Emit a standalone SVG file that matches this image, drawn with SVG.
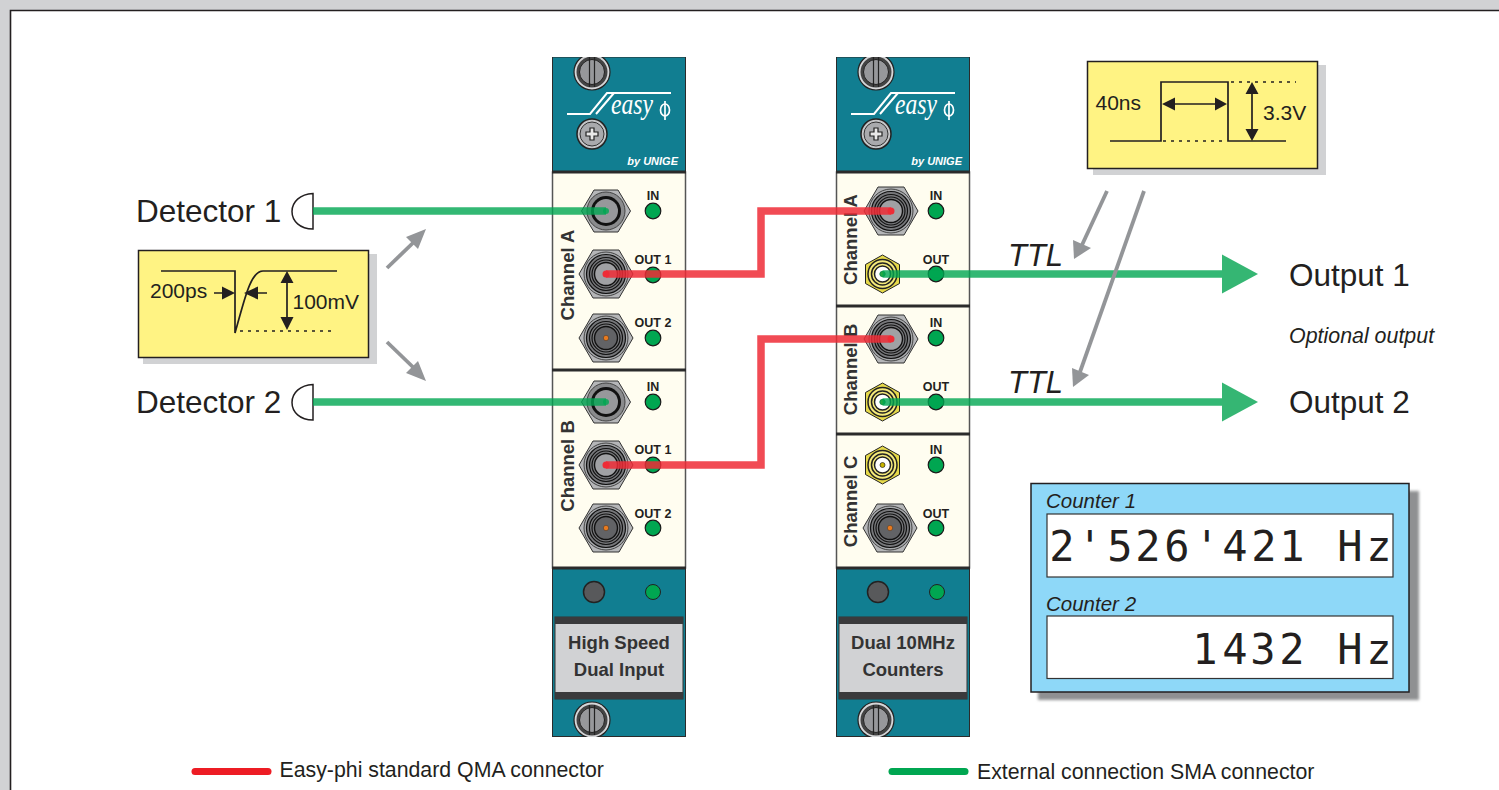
<svg xmlns="http://www.w3.org/2000/svg" width="1499" height="790" viewBox="0 0 1499 790">
<style>
text{font-family:"Liberation Sans",Arial,sans-serif;fill:#231f20}
.big{font-size:31.5px}
.it{font-style:italic}
.val{font-size:21px}
.leg{font-size:21.3px}
.pl{font-size:12.5px;font-weight:bold;text-anchor:middle}
.ch{font-size:18.5px;font-weight:bold;text-anchor:middle;fill:#333}
.lbl{font-size:18.5px;font-weight:bold;text-anchor:middle;fill:#333}
.lcd{font-family:"DejaVu Sans Mono",monospace;font-size:42px;text-anchor:middle}
.teal{fill:#117e91;stroke:#2b2b2b;stroke-width:1}
.cream{fill:#fffdf0;stroke:#555;stroke-width:1.5}
.sep{stroke:#2b2b2b;stroke-width:3}
.led{fill:#00a651;stroke:#1a1a1a;stroke-width:1.2}
.gw{stroke:#00a651;stroke-opacity:.8;stroke-width:7.5;fill:none}
.rw{stroke:#ee2c36;stroke-opacity:.85;stroke-width:7.5;fill:none}
.gd{fill:#00a651;fill-opacity:.8}
.rd{fill:#ee2c36}
.ga{stroke:#939598;stroke-width:3.8;fill:none}
.gh{fill:#939598}
.bl{stroke:#231f20;stroke-width:1.7;fill:none}
.dot{stroke:#231f20;stroke-width:1.5;stroke-dasharray:3 5;fill:none}
.ar{fill:#231f20}
.logo{stroke:#fff;fill:none;stroke-width:2}
.rg{fill:none;stroke:#111;stroke-width:1.2}
</style>
<defs>
<filter id="sb" x="-5%" y="-5%" width="110%" height="110%"><feGaussianBlur stdDeviation="1.500"/></filter>
<g id="qbase">
<path d="M-13-24H13L27 0 13 24H-13L-27 0Z" fill="#b5b6b8" stroke="#333" stroke-width="1"/>
<circle r="22" fill="#a7a9ac" stroke="#444" stroke-width="1"/>
<circle r="19.500" fill="#77787b" stroke="#111" stroke-width="1.200"/>
<circle r="16.500" class="rg"/>
<circle r="14" class="rg"/>
</g>
<g id="qma"><use href="#qbase"/><circle r="11.500" fill="#a0a1a4" stroke="#111" stroke-width="1.400"/></g>
<g id="qmao"><use href="#qbase"/><circle r="11.500" fill="#626366" stroke="#111" stroke-width="1.400"/><circle r="2.700" fill="#e87a1e" stroke="#333" stroke-width=".5"/></g>
<g id="qin">
<path d="M-12-21H12L24.500 0 12 21H-12L-24.500 0Z" fill="#b5b6b8" stroke="#333" stroke-width="1"/>
<circle r="19" fill="#8a8b8d" stroke="#444" stroke-width="1"/>
<circle r="15" fill="#111"/>
<circle r="12" fill="#97989b"/>
</g>
<g id="sma">
<path d="M0-19L17-9.500V9.500L0 19L-17 9.500V-9.500Z" fill="#e6d94a" stroke="#222" stroke-width="1"/>
<circle r="14.500" fill="#f5ea7a" stroke="#222" stroke-width="1.500"/>
<circle r="11" fill="#f5ea7a" stroke="#222" stroke-width="1.500"/>
<circle r="8" fill="#fff" stroke="#222" stroke-width="1.500"/>
<circle r="2.500" fill="#c8b400" stroke="#222" stroke-width=".7"/>
</g>
<g id="screw">
<circle r="18" fill="#d5d6d8" stroke="#222" stroke-width="1.200"/>
<circle r="15.500" fill="#444"/>
<circle r="12.500" fill="#97989b" stroke="#222" stroke-width="1"/>
<path d="M-2.500-15V15M2.500-15V15" stroke="#222" stroke-width="1.200"/>
</g>
<clipPath id="c1"><rect x="552" y="57" width="134" height="680"/></clipPath>
<clipPath id="c2"><rect x="836" y="57" width="134" height="680"/></clipPath>
<g id="head">
<rect x=".5" width="133" height="115" class="teal"/>
<path class="logo" d="M15 57H38L55 36H119M62 36L44 57"/>
<text x="80" y="57" font-size="29" text-anchor="middle" textLength="42" lengthAdjust="spacingAndGlyphs" style="fill:#fff;font-family:'Liberation Serif',serif;font-style:italic">easy</text>
<ellipse cx="113" cy="53" rx="4.500" ry="6" fill="none" stroke="#fff" stroke-width="1.700"/>
<path d="M113 44V63" stroke="#fff" stroke-width="1.700"/>
<g transform="translate(40 77)">
<circle r="15" fill="#c5c6c8" stroke="#222" stroke-width="1.500"/>
<circle r="12" fill="#a9aaad" stroke="#333"/>
<path d="M-2-6H2V-2H6V2H2V6H-2V2H-6V-2H-2Z" fill="#e8e8e8" stroke="#222" stroke-width="1.200"/>
</g>
<text x="126" y="108" class="it" font-size="11" font-weight="bold" text-anchor="end" style="fill:#fff">by UNIGE</text>
</g>
<g id="foot">
<rect x=".5" y="0" width="133" height="168.500" class="teal"/>
<circle cx="42" cy="24" r="10.500" fill="#58595b" stroke="#222" stroke-width="1.500"/>
<circle cx="101" cy="24" r="7.500" fill="#00a651" stroke="#222" stroke-width="1"/>
<rect x="3" y="49" width="128" height="82" fill="#d1d2d4" stroke="#333"/>
<rect x="3" y="49" width="128" height="7" fill="#3a3a3c"/>
<rect x="3" y="124" width="128" height="7" fill="#3a3a3c"/>
</g>
</defs>

<rect width="1499" height="790" fill="#d1d2d4"/>
<path d="M10 790V11H1499V790Z" fill="#fff"/>
<path d="M10.500 790V10.500H1499" fill="none" stroke="#231f20" stroke-width="1.600"/>

<g id="panel-left">
<g clip-path="url(#c1)">
<use href="#head" x="552" y="57"/>
<use href="#screw" x="592" y="72"/>
<use href="#foot" x="552" y="568"/>
<use href="#screw" x="592" y="720"/>
</g>
<rect x="552.500" y="172" width="133" height="396" class="cream"/>
<path class="sep" d="M552 172H686M552 370H686M552 568H686"/>
<text class="ch" transform="translate(574 275) rotate(-90)">Channel A</text>
<text class="ch" transform="translate(574 466) rotate(-90)">Channel B</text>
<use href="#qin" x="606" y="211"/><use href="#qma" x="606" y="274"/><use href="#qmao" x="606" y="338"/>
<use href="#qin" x="606" y="402"/><use href="#qma" x="606" y="465"/><use href="#qmao" x="606" y="528"/>
<text class="pl" x="653" y="200">IN</text><text class="pl" x="653" y="264">OUT 1</text><text class="pl" x="653" y="327">OUT 2</text>
<text class="pl" x="653" y="391">IN</text><text class="pl" x="653" y="454">OUT 1</text><text class="pl" x="653" y="518">OUT 2</text>
<circle class="led" cx="653" cy="211" r="7.800"/><circle class="led" cx="653" cy="275" r="7.800"/><circle class="led" cx="653" cy="338" r="7.800"/>
<circle class="led" cx="653" cy="402" r="7.800"/><circle class="led" cx="653" cy="465" r="7.800"/><circle class="led" cx="653" cy="528" r="7.800"/>
<text class="lbl" x="619" y="649">High Speed</text>
<text class="lbl" x="619" y="676">Dual Input</text>
</g>

<g id="panel-right">
<g clip-path="url(#c2)">
<use href="#head" x="836" y="57"/>
<use href="#screw" x="876" y="72"/>
<use href="#foot" x="836" y="568"/>
<use href="#screw" x="876" y="720"/>
</g>
<rect x="836.500" y="172" width="133" height="396" class="cream"/>
<path class="sep" d="M836 172H970M836 306H970M836 434H970M836 568H970"/>
<use href="#qma" x="891" y="211"/><use href="#sma" x="882.500" y="274"/>
<use href="#qma" x="891" y="339"/><use href="#sma" x="882.500" y="402"/>
<use href="#sma" x="882.500" y="465"/><use href="#qmao" x="890" y="528"/>
<text class="ch" transform="translate(857 239.500) rotate(-90)">Channel A</text>
<text class="ch" transform="translate(857 369.500) rotate(-90)">Channel B</text>
<text class="ch" transform="translate(857 501.500) rotate(-90)">Channel C</text>
<text class="pl" x="936" y="200">IN</text><text class="pl" x="936" y="264">OUT</text>
<text class="pl" x="936" y="327">IN</text><text class="pl" x="936" y="391">OUT</text>
<text class="pl" x="936" y="454">IN</text><text class="pl" x="936" y="518">OUT</text>
<circle class="led" cx="936" cy="211" r="7.800"/><circle class="led" cx="936" cy="274" r="7.800"/><circle class="led" cx="936" cy="338" r="7.800"/>
<circle class="led" cx="936" cy="402" r="7.800"/><circle class="led" cx="936" cy="465" r="7.800"/><circle class="led" cx="936" cy="528" r="7.800"/>
<text class="lbl" x="903" y="649">Dual 10MHz</text>
<text class="lbl" x="903" y="676">Counters</text>
</g>

<g id="detector-1">
<text class="big" x="136" y="222">Detector 1</text>
<path d="M313 193.500V229C300 229 292 221 292 211.500S300 194 313 193.500Z" fill="#fff" stroke="#231f20" stroke-width="1.500"/>
</g>
<g id="detector-2">
<text class="big" x="136" y="413">Detector 2</text>
<path d="M313 384.500V420C300 420 292 412 292 402.500S300 385 313 384.500Z" fill="#fff" stroke="#231f20" stroke-width="1.500"/>
</g>

<g id="pulse-box">
<rect x="143" y="254" width="234" height="110" fill="#d1d2d4"/>
<rect x="138.500" y="250.500" width="230" height="107" fill="#fff383" stroke="#231f20" stroke-width="1.500"/>
<path class="bl" d="M161 271H235V333C244 302 250 271 263 271H337"/>
<path class="dot" d="M240 331H334"/>
<text class="val" x="150" y="298">200ps</text>
<path class="bl" d="M214 293H224M255 293H267M287 280V320"/>
<path class="ar" d="M235 293L222 286.500V299.500ZM244 293L258 286.500V299.500ZM287 271L280.500 283H293.500ZM287 330L280.500 317H293.500Z"/>
<text class="val" x="292.500" y="309">100mV</text>
</g>

<g id="pulse-ttl-box">
<rect x="1093" y="65" width="233" height="110" fill="#d1d2d4"/>
<rect x="1087.500" y="61.500" width="230" height="107" fill="#fff383" stroke="#231f20" stroke-width="1.500"/>
<path class="bl" d="M1110 141H1161V82H1228V141H1286"/>
<path class="dot" d="M1163 141H1226M1231 82H1296"/>
<text class="val" x="1095.500" y="110">40ns</text>
<path class="bl" d="M1170 104H1220M1252 90V134"/>
<path class="ar" d="M1162 104L1175 97.500V110.500ZM1227 104L1215 97.500V110.500ZM1252 82L1245.500 94H1258.500ZM1252 141L1245.500 129H1258.500Z"/>
<text class="val" x="1263" y="120">3.3V</text>
</g>

<g id="counter-box">
<rect x="1038" y="491" width="381" height="209" fill="#8f9092" filter="url(#sb)"/>
<rect x="1031" y="483.500" width="378" height="208.500" fill="#8ed8f8" stroke="#231f20" stroke-width="1.500"/>
<text class="it" x="1046" y="508" font-size="20.500">Counter 1</text>
<rect x="1047" y="514" width="346" height="63" fill="#fff" stroke="#333" stroke-width="1.200"/>
<text class="lcd" y="561" x="1062 1090 1120 1148 1177 1207 1235 1264 1292 1321 1350 1379">2'526'421 Hz</text>
<text class="it" x="1046" y="611" font-size="20.500">Counter 2</text>
<rect x="1047" y="616" width="346" height="62.500" fill="#fff" stroke="#333" stroke-width="1.200"/>
<text class="lcd" y="664" x="1205 1235 1263 1292 1321 1350 1379">1432 Hz</text>
</g>

<g id="connectors">
<path class="gw" d="M313 211H606"/><circle class="gd" cx="606" cy="211" r="3"/>
<path class="gw" d="M313 402H606"/><circle class="gd" cx="606" cy="402" r="3"/>
<path class="rw" d="M606 274H761V211H891"/><circle class="rd" cx="606" cy="274" r="3.500"/><circle class="rd" cx="891" cy="211" r="3.500"/>
<path class="rw" d="M606 465H761V339H891"/><circle class="rd" cx="606" cy="465" r="3.500"/><circle class="rd" cx="891" cy="339" r="3.500"/>
<path class="gw" d="M882.500 274H1224"/><circle class="gd" cx="882.500" cy="274" r="3"/>
<path class="gw" d="M882.500 402H1224"/><circle class="gd" cx="882.500" cy="402" r="3"/>
<path d="M1222 254.500L1258 274 1222 293.500Z" fill="#35b673"/>
<path d="M1222 382.500L1258 402 1222 421.500Z" fill="#35b673"/>
<path class="ga" d="M387 268L416 240"/><path class="gh" d="M426 229L418 249 406 237Z"/>
<path class="ga" d="M387 342L416 370"/><path class="gh" d="M426 381L406 373 418 361Z"/>
<path class="ga" d="M1107 191L1082 245"/><path class="gh" d="M1074 259L1073 240 1091 248Z"/>
<path class="ga" d="M1144 191L1080 372"/><path class="gh" d="M1073 387L1072 368 1089 375Z"/>
</g>

<g id="labels">
<text class="it" x="1008" y="266" font-size="31">TTL</text>
<text class="it" x="1008" y="393" font-size="31">TTL</text>
<text class="big" x="1289" y="286">Output 1</text>
<text class="big" x="1289" y="413">Output 2</text>
<text class="it" x="1289" y="343" font-size="21.400">Optional output</text>
</g>

<g id="legend">
<path d="M195 771.500H268" stroke="#ed1c24" stroke-width="7" stroke-linecap="round"/>
<text class="leg" x="279.500" y="777">Easy-phi standard QMA connector</text>
<path d="M892 771.500H965" stroke="#00a651" stroke-width="7" stroke-linecap="round"/>
<text class="leg" x="977" y="779">External connection SMA connector</text>
</g>
</svg>
